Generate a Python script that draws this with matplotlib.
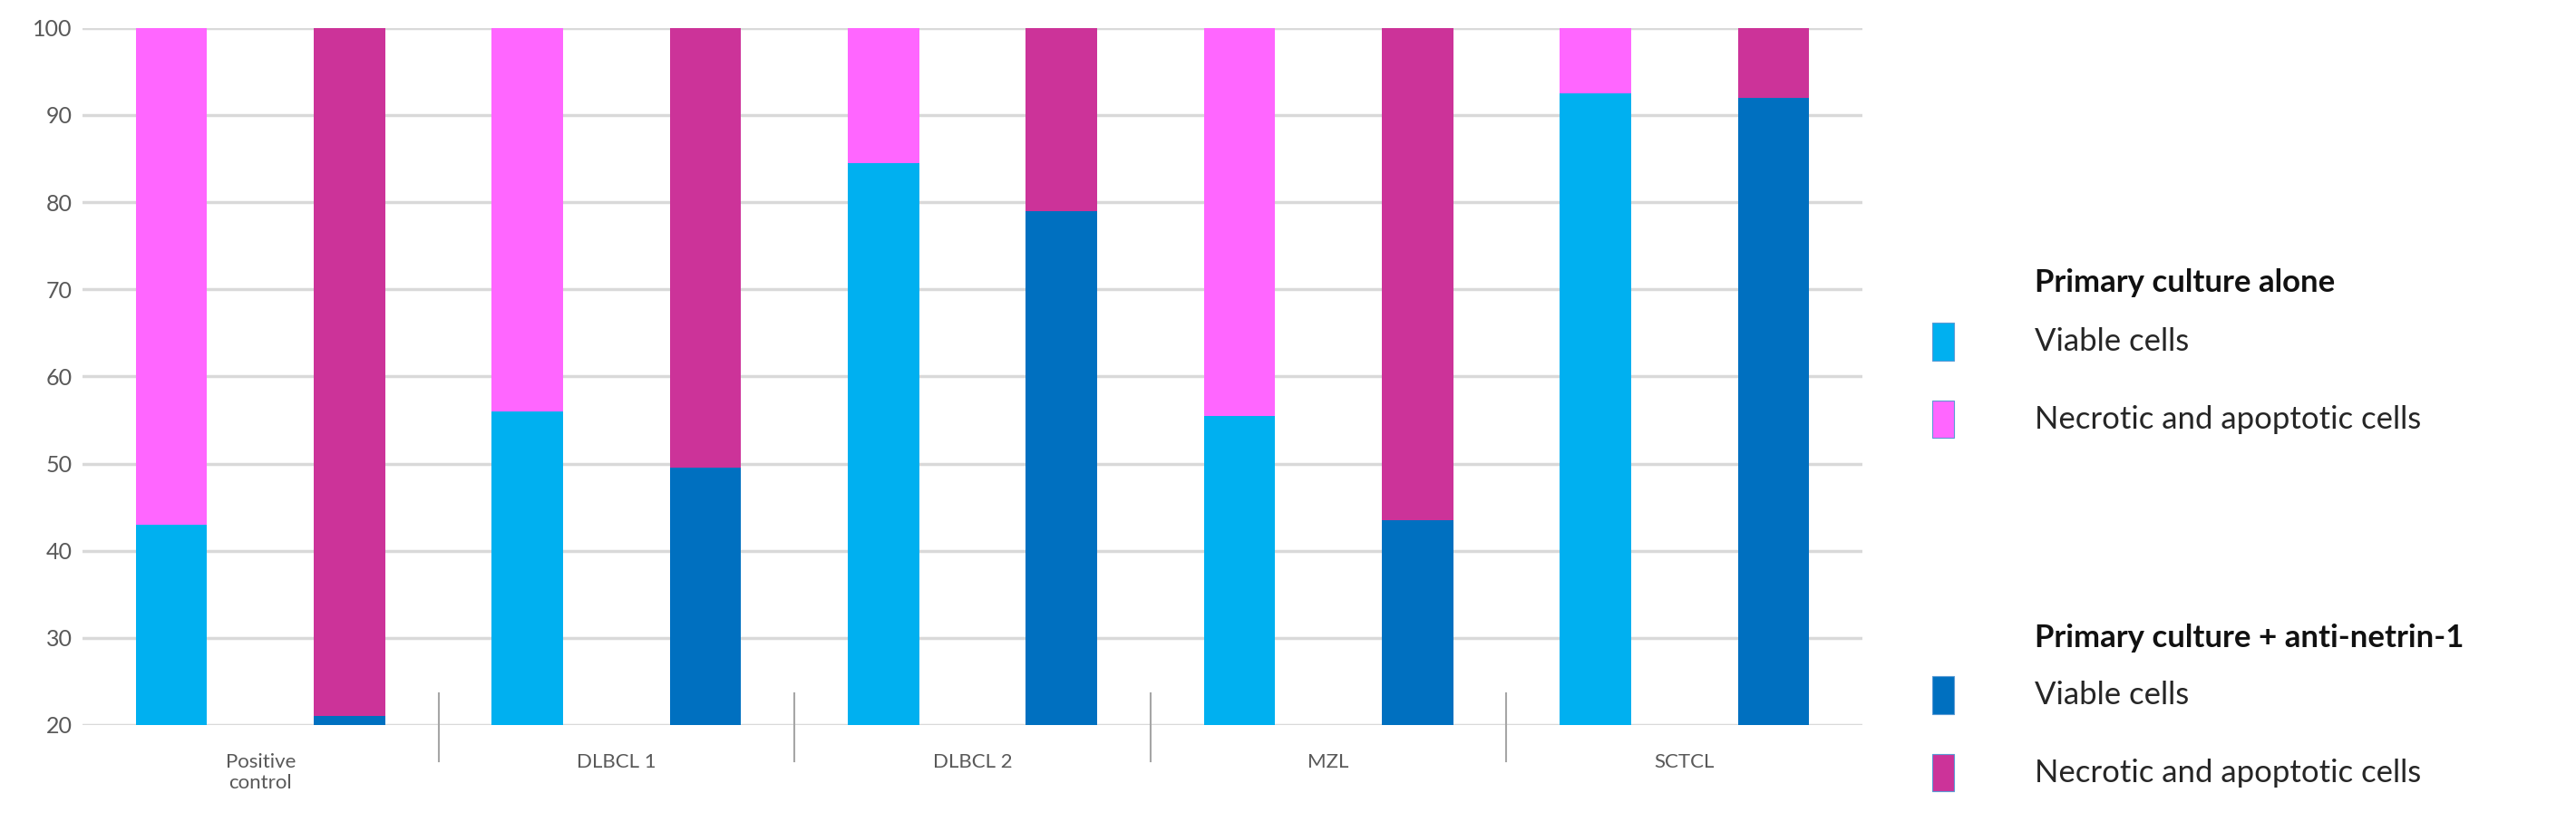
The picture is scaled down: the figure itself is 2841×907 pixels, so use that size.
import matplotlib
matplotlib.use("Agg")
import matplotlib.pyplot as plt
import numpy as np
from matplotlib.patches import Rectangle

categories = ["Positive\ncontrol", "DLBCL 1", "DLBCL 2", "MZL", "SCTCL"]
viable_alone = [43, 56, 84.5, 55.5, 92.5]
viable_anti = [21, 49.5, 79, 43.5, 92]
yticks = [20, 30, 40, 50, 60, 70, 80, 90, 100]

c_va, c_na = "#00B0F0", "#FF66FF"
c_vn, c_nn = "#0070C0", "#CC3399"

plt.rcParams['font.family'] = ['Lato', 'DejaVu Sans']
fig = plt.figure(figsize=(28.41, 9.07), dpi=100)
ax = fig.add_axes([0.032, 0.118, 0.691, 0.848])

x = np.arange(len(categories))
w = 0.2
base = 20
va = np.array(viable_alone); vn = np.array(viable_anti)
ax.bar(x - 0.25, va - base, w, bottom=base, color=c_va, zorder=3)
ax.bar(x - 0.25, 100 - va, w, bottom=va, color=c_na, zorder=3)
ax.bar(x + 0.25, vn - base, w, bottom=base, color=c_vn, zorder=3)
ax.bar(x + 0.25, 100 - vn, w, bottom=vn, color=c_nn, zorder=3)

ax.set_xlim(-0.5, len(categories) - 0.5)
ax.set_ylim(20, 100)
ax.set_yticks(yticks)
ax.yaxis.grid(True, color="#D9D9D9", linewidth=2.5, zorder=0)
ax.set_xticks(x)
ax.set_xticklabels(categories, color="#595959", fontsize=16)
ax.tick_params(axis='x', length=0, pad=22)
ax.tick_params(axis='y', length=0, labelsize=18, labelcolor="#595959", pad=8)
for s in ax.spines.values():
    s.set_visible(False)
for b in np.arange(0.5, len(categories) - 0.5, 1.0):
    ax.plot([b, b], [-0.052, 0.045], transform=ax.get_xaxis_transform(),
            color="#A6A6A6", linewidth=1.5, clip_on=False)

# legend
fs = 25
sq = 0.0095
def entry(y, color, label):
    fig.patches.append(Rectangle((0.750, y - 0.023), 0.0085, 0.046, transform=fig.transFigure,
                                 facecolor=color, edgecolor="#5B9BD5", linewidth=0.8))
    fig.text(0.790, y, label, fontsize=fs, va="center", color="#262626")

fig.text(0.790, 0.656, "Primary culture alone", fontsize=fs, fontweight="bold", va="center", color="#111111")
entry(0.584, c_va, "Viable cells")
entry(0.490, c_na, "Necrotic and apoptotic cells")
fig.text(0.790, 0.224, "Primary culture + anti-netrin-1", fontsize=fs, fontweight="bold", va="center", color="#111111")
entry(0.154, c_vn, "Viable cells")
entry(0.060, c_nn, "Necrotic and apoptotic cells")

fig.savefig("out.png", dpi=100)
